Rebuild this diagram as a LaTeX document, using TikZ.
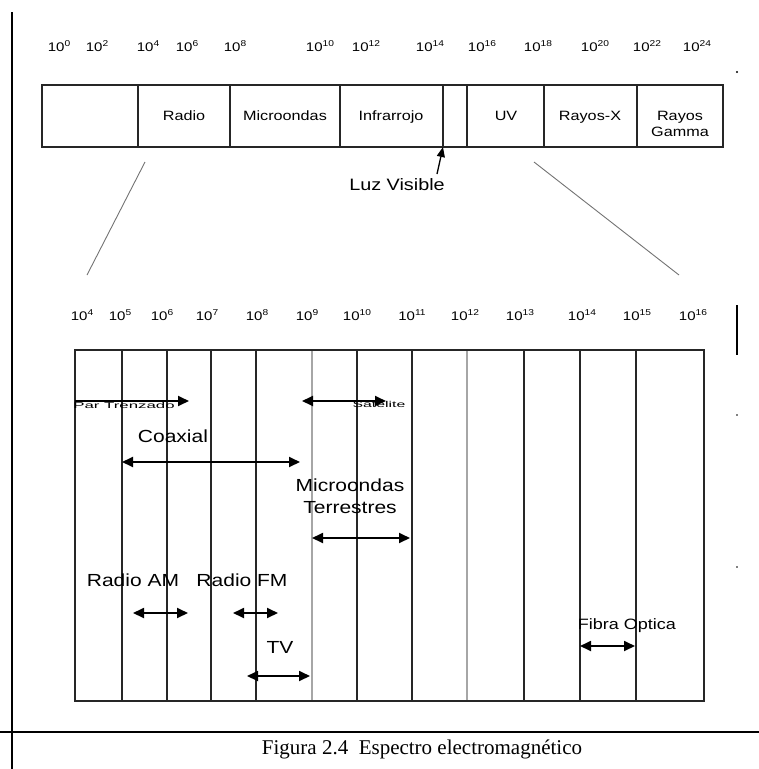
\documentclass[tikz,border=0pt]{standalone}
\usepackage{fontspec}
\setmainfont{Liberation Sans}
\newfontfamily\sa[FakeStretch=1.2]{Liberation Sans}
\newfontfamily\capfont{Liberation Serif}
\usetikzlibrary{arrows.meta}
\newcommand{\tenpow}[1]{10\raisebox{4.5pt}{\fontsize{8.5}{9}\selectfont #1}}
\tikzset{
  boxline/.style={line width=1.8pt, draw=black!85},
  grayline/.style={line width=2pt, draw=black!35},
  expo/.style={font=\sa\fontsize{12.5}{14}\selectfont, inner sep=0pt, anchor=base},
  lbl/.style={font=\sa\fontsize{13.5}{16}\selectfont, inner sep=0pt, anchor=base},
  big/.style={font=\sa\fontsize{17.5}{22}\selectfont, inner sep=0pt, align=center},
  tinylbl/.style={font=\sa\fontsize{8.5}{9}\selectfont, inner sep=0pt},
  dbl/.style={{Triangle[length=11pt,width=10pt]}-{Triangle[length=11pt,width=10pt]}, line width=1.8pt},
  sgl/.style={-{Triangle[length=11pt,width=10pt]}, line width=1.8pt},
  zoomline/.style={draw=black!55, line width=0.9pt}
}
\begin{document}
\begin{tikzpicture}[x=1pt,y=-1pt]
\useasboundingbox (0,0) rectangle (759,769);
% frame lines
\draw[line width=2.2pt] (12,12) -- (12,769);
\draw[line width=2.2pt] (0,732) -- (759,732);
% top exponents
\foreach \x/\e in {59/0,97/2,148/4,187/6,235/8,320/10,366/12,430/14,482/16,538/18,595/20,647/22,697/24}
  \node[expo] at (\x,51) {\tenpow{\e}};
% top box
\draw[boxline] (42,85) rectangle (723,147);
\foreach \x in {137.7,230,340,443.3,467.3,544.3,636.7}
  \draw[boxline] (\x,85) -- (\x,147);
\node[lbl] (radio) at (184,120) {Radio};
\node[lbl] (micro) at (285,120) {Microondas};
\node[lbl] (infra) at (391,120) {Infrarrojo};
\node[lbl] (uv) at (506,120) {UV};
\node[lbl] (rx) at (590,120) {Rayos-X};
\node[lbl] (rg1) at (680,120) {Rayos};
\node[lbl] (rg2) at (680,136) {Gamma};
% luz visible
\node[font=\sa\fontsize{16.5}{18}\selectfont, inner sep=0pt] (luz) at (397,185) {Luz Visible};
\coordinate (luzt) at (437,174);
\coordinate (luzh) at (443,147);
\draw[-{Triangle[length=10pt,width=8pt]}, line width=1.3pt] (luzt) -- (luzh);
% zoom lines
\coordinate (zl1) at (145,162); \coordinate (zl2) at (87,275);
\coordinate (zr1) at (534,162); \coordinate (zr2) at (679,275);
\draw[zoomline] (zl1) -- (zl2);
\draw[zoomline] (zr1) -- (zr2);
% lower exponents
\foreach \x/\e in {82/4,120/5,162/6,207/7,257/8,307/9,357/10,412/11,465/12,520/13,582/14,637/15,693/16}
  \node[expo] at (\x,320) {\tenpow{\e}};
% lower box
\foreach \x in {121.7,166.7,210.7,255.7,356.7,411.7,524.3,580,636}
  \draw[boxline] (\x,350) -- (\x,701);
\foreach \x in {311.7,467.3}
  \draw[grayline] (\x,350) -- (\x,701);
\draw[boxline] (75,350) rectangle (704,701);
% par trenzado
\coordinate (pt1) at (75,401); \coordinate (pt2) at (189,401);
\node[tinylbl] (ptl) at (124,405) {\scalebox{1.65}[1]{Par Trenzado}};
\draw[sgl] (pt1) -- (pt2);
% satelite
\coordinate (sa1) at (302,401); \coordinate (sa2) at (386,401);
\node[tinylbl] (sal) at (379,404) {\scalebox{1.55}[1]{Satelite}};
\draw[dbl] (sa1) -- (sa2);
% coaxial
\node[big] (coax) at (173,436) {Coaxial};
\coordinate (co1) at (122,462); \coordinate (co2) at (300,462);
\draw[dbl] (co1) -- (co2);
% microondas terrestres
\node[big] (mt) at (350,496) {Microondas\\Terrestres};
\coordinate (mt1) at (312,538); \coordinate (mt2) at (410,538);
\draw[dbl] (mt1) -- (mt2);
% radio AM / FM
\node[big] (am) at (133,580) {Radio AM};
\coordinate (am1) at (133,613); \coordinate (am2) at (188,613);
\draw[dbl] (am1) -- (am2);
\node[big] (fm) at (242,580) {Radio FM};
\coordinate (fm1) at (233,613); \coordinate (fm2) at (278,613);
\draw[dbl] (fm1) -- (fm2);
% TV
\node[big] (tv) at (280,647) {TV};
\coordinate (tv1) at (247,676); \coordinate (tv2) at (310,676);
\draw[dbl] (tv1) -- (tv2);
% fibra optica
\node[font=\sa\fontsize{15}{18}\selectfont, inner sep=0pt] (fo) at (627,626) {Fibra Optica};
\coordinate (fo1) at (580,646); \coordinate (fo2) at (635,646);
\draw[dbl] (fo1) -- (fo2);
% stray marks
\fill (737,72) circle (1.1pt);
\draw[line width=1.5pt] (737,305) -- (737,355);
\fill (737,415) circle (0.9pt);
\fill (737,567) circle (0.9pt);
% caption
\node[font=\capfont\fontsize{21}{24}\selectfont, inner sep=0pt] (cap) at (422,749) {Figura 2.4\ \ Espectro electromagnético};
\end{tikzpicture}
\end{document}
